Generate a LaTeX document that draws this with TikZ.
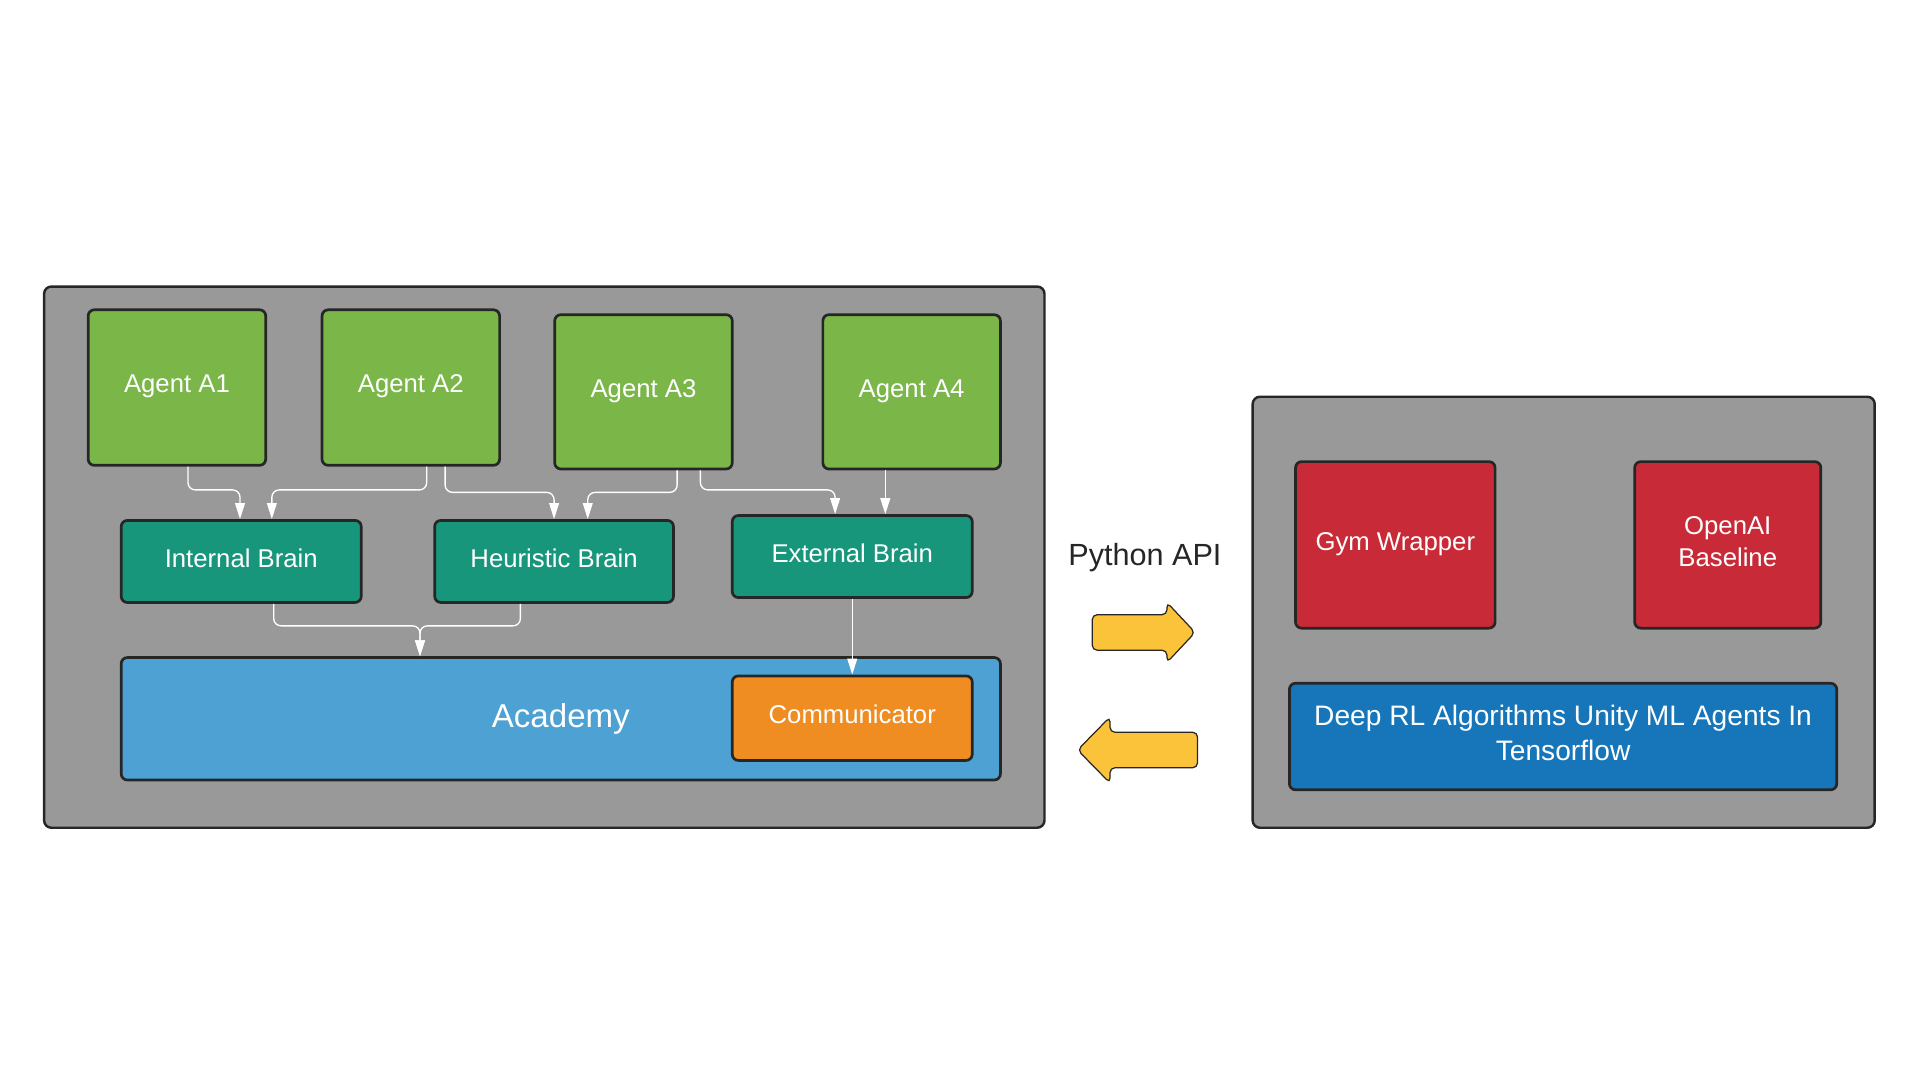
\documentclass[tikz,border=0pt]{standalone}
\usepackage{fontspec}
\setmainfont{Liberation Sans}
\usetikzlibrary{arrows.meta}
\definecolor{panelgray}{RGB}{153, 153, 153}
\definecolor{agentgreen}{RGB}{122, 182, 72}
\definecolor{braingreen}{RGB}{24, 150, 124}
\definecolor{academyblue}{RGB}{77, 161, 211}
\definecolor{commorange}{RGB}{239, 141, 34}
\definecolor{gymred}{RGB}{201, 42, 56}
\definecolor{deepblue}{RGB}{22, 118, 185}
\definecolor{apiyellow}{RGB}{250, 195, 58}
\definecolor{rim}{RGB}{38, 38, 38}
\newcommand{\sz}[2]{\fontsize{#1}{#2}\selectfont}

\begin{document}
\begin{tikzpicture}[x=1pt, y=-1pt,
  panel/.style={draw=rim, fill=panelgray, line width=2pt, rounded corners=6pt, inner sep=0pt},
  box/.style={draw=rim, line width=2.2pt, rounded corners=5pt, text=white,
    font=\sz{21}{26}, align=center, inner sep=0pt, text depth=6pt},
  agent/.style={box, fill=agentgreen, minimum width=145pt, minimum height=127pt},
  brain/.style={box, fill=braingreen, minimum width=196pt, minimum height=67pt},
  flow/.style={draw=white, line width=1.1pt, rounded corners=6pt,
    -{Triangle[width=8pt, length=13pt, fill=white]}},
  apiarrow/.style={draw=rim, fill=apiyellow, line width=1pt, rounded corners=4pt}]

  \useasboundingbox (0, 0) rectangle (1568, 882);

  \node[panel, minimum width=817pt, minimum height=442pt] (unity) at (444.5, 455) {};
  \node[panel, minimum width=508pt, minimum height=352pt] (python) at (1277, 500) {};

  \node[agent] (a1) at (144.5, 316.5) {Agent A1};
  \node[agent] (a2) at (335.5, 316.5) {Agent A2};
  \node[agent, minimum height=126pt] (a3) at (525.5, 320) {Agent A3};
  \node[agent, minimum height=126pt] (a4) at (744.5, 320) {Agent A4};

  \node[brain] (ibrain) at (197, 458.5) {Internal Brain};
  \node[brain, minimum width=195pt] (hbrain) at (452.5, 458.5) {Heuristic Brain};
  \node[brain] (ebrain) at (696, 454.5) {External Brain};

  \node[box, fill=academyblue, minimum width=718pt, minimum height=100pt,
    font=\sz{27}{32}] (academy) at (458, 587) {Academy};
  \node[box, fill=commorange, minimum width=196pt, minimum height=69pt] (comm) at (696, 586.5) {Communicator};

  \node[box, fill=gymred, minimum width=163pt, minimum height=136pt] (gym) at (1139.5, 445) {Gym Wrapper};
  \node[box, fill=gymred, minimum width=152pt, minimum height=136pt] (openai) at (1411, 445) {OpenAI\\Baseline};
  \node[box, fill=deepblue, minimum width=447pt, minimum height=87pt,
    font=\sz{23}{28}] (deeprl) at (1276.5, 601.5) {Deep RL Algorithms Unity ML Agents In\\Tensorflow};

  \node[text=rim, font=\sz{25}{30}] (pyapi) at (935, 455) {Python API};

  \draw[flow] ([xshift=9pt]a1.south) -- ++(0, 19) -| ([xshift=-1pt]ibrain.north);
  \draw[flow] ([xshift=13pt]a2.south) -- ++(0, 19) -| ([xshift=25pt]ibrain.north);
  \draw[flow] ([xshift=28pt]a2.south) -- ++(0, 21) -| (hbrain.north);
  \draw[flow] ([xshift=27.5pt]a3.south) -- ++(0, 18) -| ([xshift=27.5pt]hbrain.north);
  \draw[flow] ([xshift=46.5pt]a3.south) -- ++(0, 16) -| ([xshift=-14pt]ebrain.north);
  \draw[flow] ([xshift=-21.5pt]a4.south) -- ([xshift=27pt]ebrain.north);
  \draw[flow] ([xshift=26.5pt]ibrain.south) -- ++(0, 18) -| ([xshift=-115pt]academy.north);
  \draw[flow] ([xshift=-27.5pt]hbrain.south) -- ++(0, 18) -| ([xshift=-115pt]academy.north);
  \draw[flow] (ebrain.south) -- (comm.north);

  \draw[apiarrow] (892, 502) -- (953, 502) -- (953, 492) -- (976, 516.5)
    -- (953, 541) -- (953, 531) -- (892, 531) -- cycle;
  \draw[apiarrow] (978, 598) -- (906.5, 598) -- (906.5, 585.5) -- (880, 612.5)
    -- (906.5, 639.5) -- (906.5, 627) -- (978, 627) -- cycle;

\end{tikzpicture}
\end{document}
